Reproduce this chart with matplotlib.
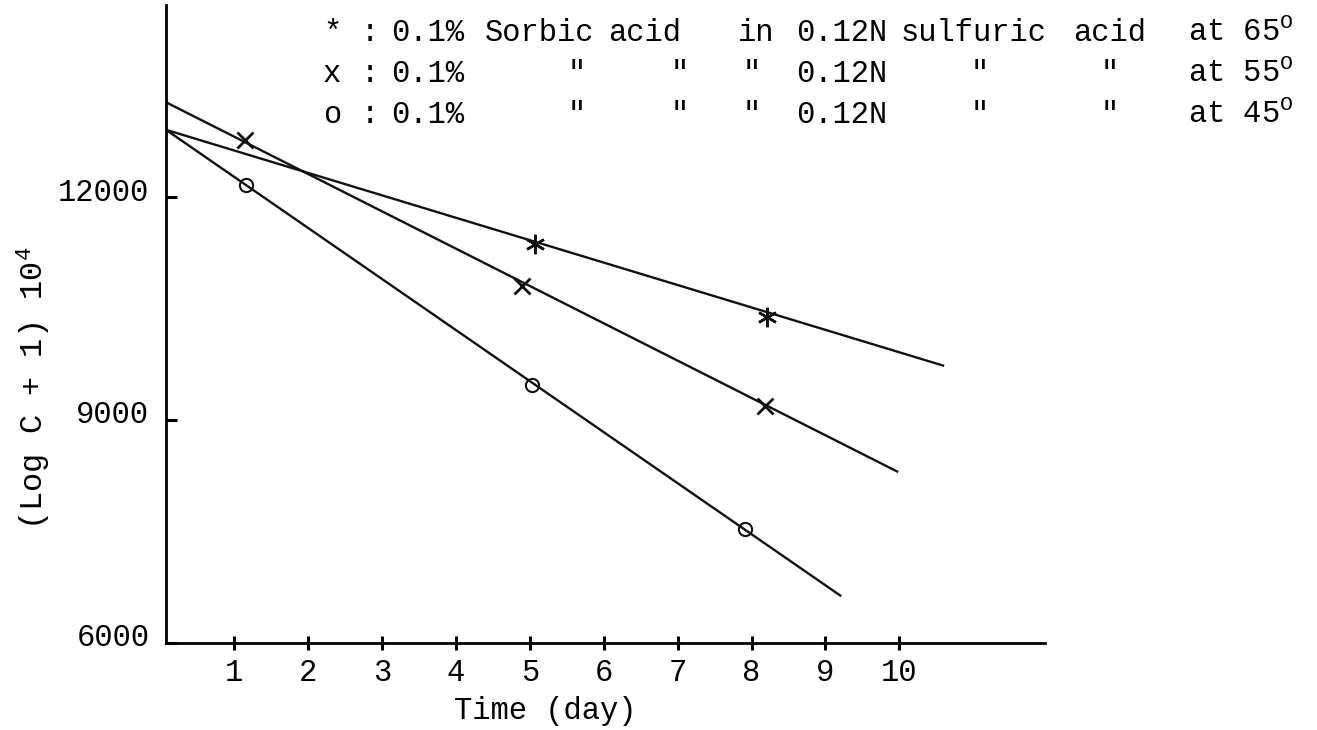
import matplotlib
matplotlib.use("Agg")
import matplotlib.pyplot as plt
from matplotlib.transforms import ScaledTranslation

# ---- data ----
t65 = [5.07, 8.21]
y65 = [11372, 10383]
fit65_t = [0.0, 10.59]
fit65_y = [12932, 9732]

t55 = [1.15, 4.89, 8.18]
y55 = [12773, 10810, 9193]
fit55_t = [0.0, 9.97]
fit55_y = [13319, 8304]

t45 = [1.16, 5.03, 7.91]
y45 = [12158, 9476, 7532]
fit45_t = [0.0, 9.20]
fit45_y = [12962, 6633]

xticks = [1, 2, 3, 4, 5, 6, 7, 8, 9, 10]
yticks = [6000, 9000, 12000]
ytick_labels = ["6000", "9000", "12000"]

FONT = "Liberation Mono"
FS = 22
plt.rcParams['font.family'] = [FONT, 'DejaVu Sans']
plt.rcParams['mathtext.fontset'] = 'custom'
plt.rcParams['mathtext.rm'] = FONT
plt.rcParams['mathtext.it'] = FONT
plt.rcParams['mathtext.tt'] = FONT

W, H = 1317, 730
fig = plt.figure(figsize=(W / 100, H / 100), dpi=100)
fig.patch.set_facecolor("white")

def fx(px):
    return px / W

def fy(py):
    return 1 - py / H

ax_l, ax_r, ax_b, ax_t = 166, 1045, 642.5, 5
ax = fig.add_axes([fx(ax_l), fy(ax_b), fx(ax_r) - fx(ax_l), fy(ax_t) - fy(ax_b)])
ax.set_xlim(0.078, 11.97)
ax.set_ylim(6000, 14590)

for s in ["top", "right"]:
    ax.spines[s].set_visible(False)
for s in ["left", "bottom"]:
    ax.spines[s].set_linewidth(2.0)
    ax.spines[s].set_color("black")

lc = "#111111"
ax.plot(fit65_t, fit65_y, color=lc, lw=1.7)
ax.plot(fit55_t, fit55_y, color=lc, lw=1.7)
ax.plot(fit45_t, fit45_y, color=lc, lw=1.7)

ax.plot(t65, y65, linestyle="none", marker=(6, 2, 0), ms=14, mew=1.8, color=lc)
ax.plot(t55, y55, linestyle="none", marker="x", ms=12, mew=2.0, color=lc)
ax.plot(t45, y45, linestyle="none", marker="o", ms=9.5, mew=1.5, mfc="none", color=lc)

ax.set_xticks(xticks)
ax.set_xticklabels([str(v) for v in xticks], fontsize=FS, family=FONT)
ax.set_yticks(yticks)
ax.set_yticklabels(ytick_labels, fontsize=FS, family=FONT)
ax.tick_params(axis="x", direction="inout", length=10, width=2.2, pad=6)
ax.tick_params(axis="y", direction="in", length=8, width=2.2, pad=12)
up = ScaledTranslation(0, 8 / 100, fig.dpi_scale_trans)
for lab in ax.get_yticklabels():
    lab.set_transform(lab.get_transform() + up)

# axis titles (placed like the typed originals)
fig.text(fx(545), fy(711), "Time (day)", fontsize=FS, family=FONT,
         ha="center", va="center")
fig.text(fx(34), fy(388), r"(Log C + 1) 10$^{4}$", fontsize=23, family=FONT,
         rotation=90, ha="center", va="center")

# ---- legend typed at the top ----
rows_base = [41, 82, 123]
row_words = [
    [("*", 323), (":", 361), ("0.1%", 391), ("Sorbic", 485), ("acid", 608),
     ("in", 738), ("0.12N", 796), ("sulfuric", 901), ("acid", 1073),
     (r"at 65$^{\mathrm{O}}$", 1188)],
    [("x", 323), (":", 361), ("0.1%", 391), ('"', 568), ('"', 671), ('"', 743),
     ("0.12N", 796), ('"', 971), ('"', 1101), (r"at 55$^{\mathrm{O}}$", 1188)],
    [("o", 323), (":", 361), ("0.1%", 391), ('"', 568), ('"', 671), ('"', 743),
     ("0.12N", 796), ('"', 971), ('"', 1101), (r"at 45$^{\mathrm{O}}$", 1188)],
]
for ry, words in zip(rows_base, row_words):
    for w, px in words:
        fig.text(fx(px), fy(ry), w, fontsize=FS, family=FONT, ha="left", va="baseline")

fig.savefig("out.png", dpi=100)
